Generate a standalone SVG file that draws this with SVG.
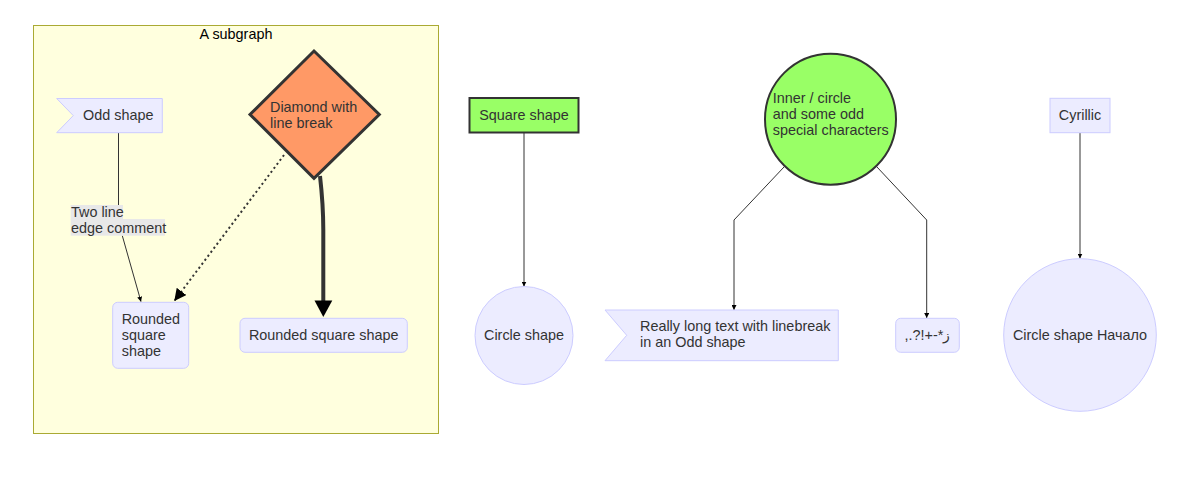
<svg xmlns="http://www.w3.org/2000/svg" width="1200" height="478" viewBox="0 0 1200 478">
<style>
text{font-family:"Liberation Sans",Arial,sans-serif;font-size:14.4px;fill:#333}
.n{fill:#ececff;stroke:#ccccff;stroke-width:1}
.e{fill:none;stroke:#333;stroke-width:1}
.c{text-anchor:middle}
</style>
<defs>
<marker id="a" viewBox="0 0 10 10" refX="10" refY="5" markerWidth="5" markerHeight="5" orient="auto" markerUnits="userSpaceOnUse"><path d="M0,0L10,5L0,10z" fill="#000"/></marker>
<marker id="ad" viewBox="0 0 10 10" refX="10" refY="5" markerWidth="12" markerHeight="12" orient="auto" markerUnits="userSpaceOnUse"><path d="M0,0L10,5L0,10z" fill="#000"/></marker>
</defs>
<rect width="1200" height="478" fill="#fff"/>
<g id="subgraph">
<rect x="33.5" y="25.5" width="405" height="408" fill="#ffffde" stroke="#aaaa33" stroke-width="1"/>
<text class="c" x="236" y="38.5" style="fill:#000">A subgraph</text>
</g>
<g id="connectors">
<path class="e" d="M118.5,133V205"/>
<path class="e" d="M122.3,235.7L141,301.7" marker-end="url(#a)"/>
<path d="M284,155L174.3,301" fill="none" stroke="#333" stroke-width="2" stroke-dasharray="2,3" marker-end="url(#ad)"/>
<path d="M320,176Q323.3,205 323.3,230V302" fill="none" stroke="#333" stroke-width="4"/>
<path d="M314.5,300.5H332.3L323.3,317z" fill="#000"/>
<path class="e" d="M524,133V286.5" marker-end="url(#a)"/>
<path class="e" d="M784.3,166.7L734,220V310" marker-end="url(#a)"/>
<path class="e" d="M876.7,166.7L926.7,220V318" marker-end="url(#a)"/>
<path class="e" d="M1080,133V258.5" marker-end="url(#a)"/>
</g>
<g id="edge-label">
<rect x="70.7" y="205" width="52.3" height="14.5" fill="#e8e8e8"/>
<rect x="70.7" y="219" width="94.3" height="16.7" fill="#e8e8e8"/>
<text x="71" y="217">Two line</text>
<text x="71" y="233">edge comment</text>
</g>
<g id="odd">
<path class="n" d="M56.7,98.5H162.3V132.7H56.7L73.3,115.6z"/>
<text x="83" y="120">Odd shape</text>
</g>
<g id="diamond">
<path d="M314,51L379.3,114.5L314,178.3L250,114.5z" fill="#ff9966" stroke="#333" stroke-width="3"/>
<text x="270" y="111.7">Diamond with</text>
<text x="270" y="127.7">line break</text>
</g>
<g id="rounded1">
<rect class="n" x="112.7" y="302.3" width="76" height="66" rx="5"/>
<text x="121.7" y="323.5">Rounded</text>
<text x="121.7" y="340">square</text>
<text x="121.7" y="356">shape</text>
</g>
<g id="rounded2">
<rect class="n" x="240" y="318.3" width="167.3" height="34" rx="5"/>
<text class="c" x="323.7" y="340">Rounded square shape</text>
</g>
<g id="square">
<rect x="469.5" y="98" width="109" height="34.5" fill="#99ff66" stroke="#333" stroke-width="2"/>
<text class="c" x="524" y="120">Square shape</text>
</g>
<g id="circle1">
<circle class="n" cx="524" cy="335.5" r="49"/>
<text class="c" x="524" y="340">Circle shape</text>
</g>
<g id="inner">
<circle cx="830.5" cy="119.2" r="65.5" fill="#99ff66" stroke="#333" stroke-width="2"/>
<text x="772.7" y="103.3">Inner / circle</text>
<text x="772.7" y="119.3">and some odd</text>
<text x="772.7" y="135.3">special characters</text>
</g>
<g id="odd2">
<path class="n" d="M605,310H838.3V360.7H605L626.7,335.3z"/>
<text x="640" y="330.7">Really long text with linebreak</text>
<text x="640" y="347.3">in an Odd shape</text>
</g>
<g id="special">
<rect class="n" x="895.7" y="318.3" width="63.6" height="34" rx="5"/>
<text class="c" x="927.5" y="340">,.?!+-*ز</text>
</g>
<g id="cyrillic">
<rect class="n" x="1050" y="98.3" width="60" height="34.4"/>
<text class="c" x="1080" y="120">Cyrillic</text>
</g>
<g id="circle2">
<circle class="n" cx="1080" cy="335" r="76.3"/>
<text class="c" x="1080" y="340">Circle shape Начало</text>
</g>
</svg>
